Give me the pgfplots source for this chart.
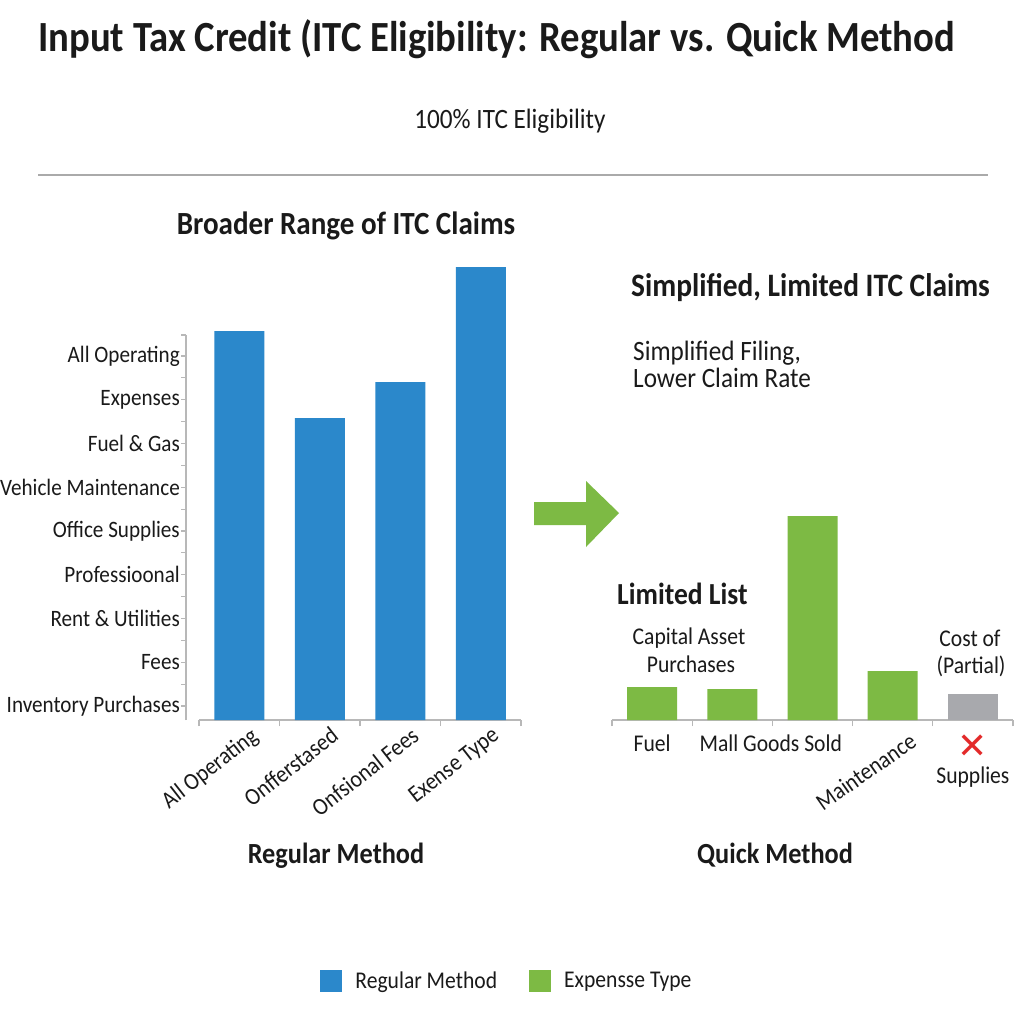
\documentclass[border=0pt]{standalone}
\usepackage{pgfplots}
\pgfplotsset{compat=1.18}
\usepackage{fontspec}
\setmainfont{Carlito}[FakeStretch=0.9]
\newfontfamily\symfont{DejaVu Sans}
\definecolor{barblue}{HTML}{2B88CB}
\definecolor{bargreen}{HTML}{7DBA44}
\definecolor{bargray}{HTML}{A8A9AD}
\definecolor{xred}{HTML}{E32A2A}
\definecolor{axgray}{HTML}{B8B8B8}
\definecolor{linegray}{HTML}{AAAAAA}
\definecolor{textc}{HTML}{1A1A1A}
\newcommand\fsz[2]{\fontsize{#1}{#2}\selectfont}
\pgfplotsset{sq legend/.style={legend image code/.code={\fill[##1] (0pt,-11pt) rectangle (22pt,11pt);}}}
\begin{document}
\begin{tikzpicture}
\fill[white] (0,0) rectangle (1024pt,-1024pt);
\path[use as bounding box] (0,0) rectangle (1024pt,-1024pt);
% titles and texts
\node[anchor=base west, inner sep=0, text=textc, font=\fsz{43}{48}\bfseries] at (38pt,-52pt) {Input Tax Credit (ITC Eligibility: Regular vs. Quick Method};
\node[anchor=base, inner sep=0, text=textc, font=\fsz{28}{32}] at (510pt,-129pt) {100\% ITC Eligibility};
\draw[linegray, line width=2pt] (38pt,-175pt) -- (988pt,-175pt);
\node[anchor=base, inner sep=0, text=textc, font=\fsz{32.3}{36}\bfseries] at (346pt,-235pt) {Broader Range of ITC Claims};
\node[anchor=base west, inner sep=0, text=textc, font=\fsz{32.7}{36}\bfseries] at (631pt,-296pt) {Simplified, Limited ITC Claims};
\node[anchor=base west, inner sep=0, text=textc, font=\fsz{28}{30}] at (633pt,-360pt) {Simplified Filing,};
\node[anchor=base west, inner sep=0, text=textc, font=\fsz{28}{30}] at (633pt,-387pt) {Lower Claim Rate};
\node[anchor=base west, inner sep=0, text=textc, font=\fsz{30.6}{34}\bfseries] at (617pt,-604pt) {Limited List};
\node[anchor=base, inner sep=0, text=textc, font=\fsz{24}{28}] at (689pt,-644pt) {Capital Asset};
\node[anchor=base, inner sep=0, text=textc, font=\fsz{24}{28}] at (691pt,-672pt) {Purchases};
\node[anchor=base, inner sep=0, text=textc, font=\fsz{24}{28}] at (970pt,-646pt) {Cost of};
\node[anchor=base, inner sep=0, text=textc, font=\fsz{24}{28}] at (971pt,-673pt) {(Partial)};
\node[anchor=base, inner sep=0, text=textc, font=\fsz{29.2}{32}\bfseries] at (336pt,-863pt) {Regular Method};
\node[anchor=base, inner sep=0, text=textc, font=\fsz{29.2}{32}\bfseries] at (775pt,-863pt) {Quick Method};
% arrow
\fill[bargreen] (534pt,-502pt) -- (586pt,-502pt) -- (586pt,-481pt) -- (619pt,-513pt) -- (586pt,-547pt) -- (586pt,-525pt) -- (534pt,-525pt) -- cycle;
% left category axis (y labels)
\begin{axis}[at={(186pt,-720pt)}, anchor=south west, x=1pt, y=1pt,
  xmin=0, xmax=1, ymin=0, ymax=385,
  axis x line=none, axis y line=left,
  axis line style={draw=axgray, line width=1.5pt, -},
  ytick={14,57.75,101.5,145.25,189,232.75,276.5,320.25,364},
  yticklabels={Inventory Purchases, Fees, Rent \& Utilities, Professioonal\hspace{7pt}, Office Supplies, Vehicle Maintenance, Fuel \& Gas, Expenses, All Operating},
  minor ytick={35.875,79.625,123.375,167.125,210.875,254.625,298.375,342.125,385},
  tick align=outside, major tick length=5pt, minor tick length=5pt,
  tick style={draw=axgray, line width=1.2pt},
  yticklabel style={font=\fsz{23.5}{26}, text=textc, inner sep=1pt},
  clip=false]
\end{axis}
% left bars
\begin{axis}[at={(199pt,-720pt)}, anchor=south west, x=80.5pt, y=1pt,
  xmin=-0.5, xmax=3.5, ymin=0, ymax=460,
  axis x line=bottom, axis y line=none,
  axis line style={draw=axgray, line width=1.5pt, -},
  ybar, bar width=50pt,
  xtick={0,1,2,3},
  xticklabels={All Operating, Onfferstased, Onfsional Fees, Exense Type},
  minor xtick={-0.5,0.5,1.5,2.5,3.5},
  tick align=outside, major tick length=0pt, minor tick length=6pt,
  tick style={draw=axgray, line width=1.2pt},
  xticklabel style={font=\fsz{24}{26}, text=textc, xshift=10pt, yshift=-4pt, rotate=38, anchor=north east, inner sep=1pt},
  clip=false]
\addplot[fill=barblue, draw=none] coordinates {(0,389) (1,302) (2,338) (3,453)};
\end{axis}
% right bars
\begin{axis}[at={(612pt,-720pt)}, anchor=south west, x=80.2pt, y=1pt,
  xmin=-0.5, xmax=4.5, ymin=0, ymax=210,
  axis x line=bottom, axis y line=none,
  axis line style={draw=axgray, line width=1.5pt, -},
  ybar, bar width=50pt, bar shift=0pt,
  xtick={0,1.48,4},
  xticklabels={Fuel, Mall Goods Sold, {{\symfont\color{xred}\fsz{36}{36}✕}\\[-2pt]Supplies}},
  extra x ticks={3}, extra x tick labels={Maintenance},
  extra x tick style={major tick length=0pt, xticklabel style={xshift=16pt, yshift=4pt, rotate=35, anchor=north east, align=left}},
  minor xtick={-0.5,0.5,1.5,2.5,3.5,4.5},
  tick align=outside, major tick length=0pt, minor tick length=6pt,
  tick style={draw=axgray, line width=1.2pt},
  xticklabel style={font=\fsz{24}{27}, text=textc, align=center, inner sep=1pt, yshift=-14pt},
  legend columns=2,
  legend style={at={(-0.262,-1.243)}, anchor=center, draw=none, fill=none, font=\fsz{24}{26}, text=textc,
    /tikz/every odd column/.append style={column sep=11pt},
    /tikz/every even column/.append style={column sep=30pt}},
  legend cell align=left,
  clip=false]
\addlegendimage{fill=barblue, draw=none, sq legend}
\addplot[fill=bargreen, draw=none, sq legend] coordinates {(0,33) (1,31) (2,204) (3,49)};
\addplot[fill=bargray, draw=none, forget plot] coordinates {(4,26)};
\legend{Regular Method, Expensse Type}
\end{axis}
\end{tikzpicture}
\end{document}
